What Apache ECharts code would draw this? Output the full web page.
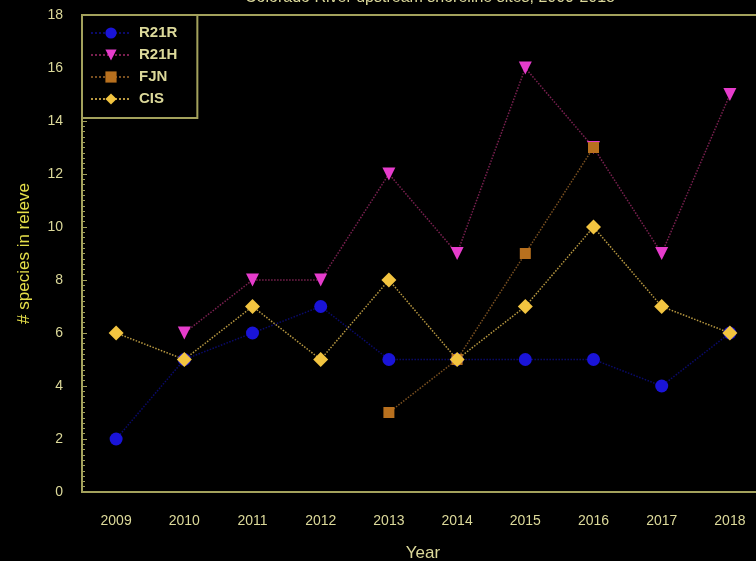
<!DOCTYPE html>
<html>
<head>
<meta charset="utf-8">
<script src="https://cdn.jsdelivr.net/npm/echarts@6/dist/echarts.min.js"></script>
<style>
  html, body { margin: 0; padding: 0; background: #000; }
  #chart { width: 756px; height: 561px; }
</style>
</head>
<body>
<div id="chart"></div>
<script>
const years = ["2009", "2010", "2011", "2012", "2013", "2014", "2015", "2016", "2017", "2018"];
const r21r = [2, 5, 6, 7, 5, 5, 5, 5, 4, 6];
const r21h = [null, 6, 8, 8, 12, 9, 16, 13, 9, 15];
const fjn = [null, null, null, null, 3, 5, 9, 13, null, null];
const cis = [6, 5, 7, 5, 8, 5, 7, 10, 7, 6];

const textColor = "#dcd99a";
const titleColor = "#e6e04a";
const axisColor = "#a3a15c";

const chart = echarts.init(document.getElementById("chart"));

function lineSeries(name, data, symbol, color, lineColor, size) {
  return {
    name: name,
    type: "line",
    data: data,
    symbol: symbol,
    symbolSize: size,
    symbolRotate: symbol === "triangle" ? 180 : 0,
    itemStyle: { color: color },
    lineStyle: { color: lineColor, type: "dotted", width: 1.5 }
  };
}

chart.setOption({
  backgroundColor: "#000",
  animation: false,
  title: {
    text: "Colorado River upstream shoreline sites, 2009-2018",
    left: 425,
    textAlign: "center",
    top: -15,
    textStyle: { color: textColor, fontSize: 16, fontWeight: "normal", fontFamily: "Liberation Sans" }
  },
  legend: {
    orient: "vertical",
    left: 82,
    top: 15,
    itemGap: 6,
    itemWidth: 40,
    itemHeight: 14,
    padding: [10, 20, 11, 8],
    borderColor: axisColor,
    borderWidth: 2,
    backgroundColor: "#000",
    textStyle: { color: textColor, fontSize: 15, lineHeight: 16, fontFamily: "Liberation Sans", fontWeight: "bold", padding: [0, 0, 0, 3] },
    data: ["R21R", "R21H", "FJN", "CIS"]
  },
  grid: {
    left: 82,
    top: 15,
    width: 682,
    height: 477,
    outerBoundsMode: "none",
    show: true,
    borderColor: axisColor,
    borderWidth: 2
  },
  xAxis: {
    type: "category",
    data: years,
    name: "Year",
    nameLocation: "middle",
    nameGap: 53,
    nameTextStyle: { color: textColor, fontSize: 17, fontFamily: "Liberation Sans" },
    axisLine: { lineStyle: { color: axisColor, width: 2 } },
    axisTick: { alignWithLabel: true, length: 5, lineStyle: { color: axisColor } },
    axisLabel: { color: textColor, fontSize: 14, margin: 22, fontFamily: "Liberation Sans" },
    splitLine: { show: false }
  },
  yAxis: {
    type: "value",
    min: 0,
    max: 18,
    interval: 2,
    name: "# species in releve",
    nameLocation: "middle",
    nameGap: 49,
    nameTextStyle: { color: titleColor, fontSize: 17, fontFamily: "Liberation Sans" },
    axisLine: { show: true, lineStyle: { color: axisColor, width: 2 } },
    axisTick: { show: true, inside: true, length: 5, lineStyle: { color: axisColor } },
    minorTick: { show: true, splitNumber: 10, length: 3, lineStyle: { color: axisColor } },
    axisLabel: { color: textColor, fontSize: 14, margin: 19, fontFamily: "Liberation Sans" },
    splitLine: { show: false }
  },
  series: [
    lineSeries("R21R", r21r, "circle", "#1a14d8", "#0a0a6a", 13),
    lineSeries("R21H", r21h, "triangle", "#e63ccc", "#7a2050", 13),
    lineSeries("FJN", fjn, "rect", "#b8701e", "#7a5020", 11),
    lineSeries("CIS", cis, "diamond", "#f2c440", "#b89840", 15)
  ]
});
</script>
</body>
</html>
